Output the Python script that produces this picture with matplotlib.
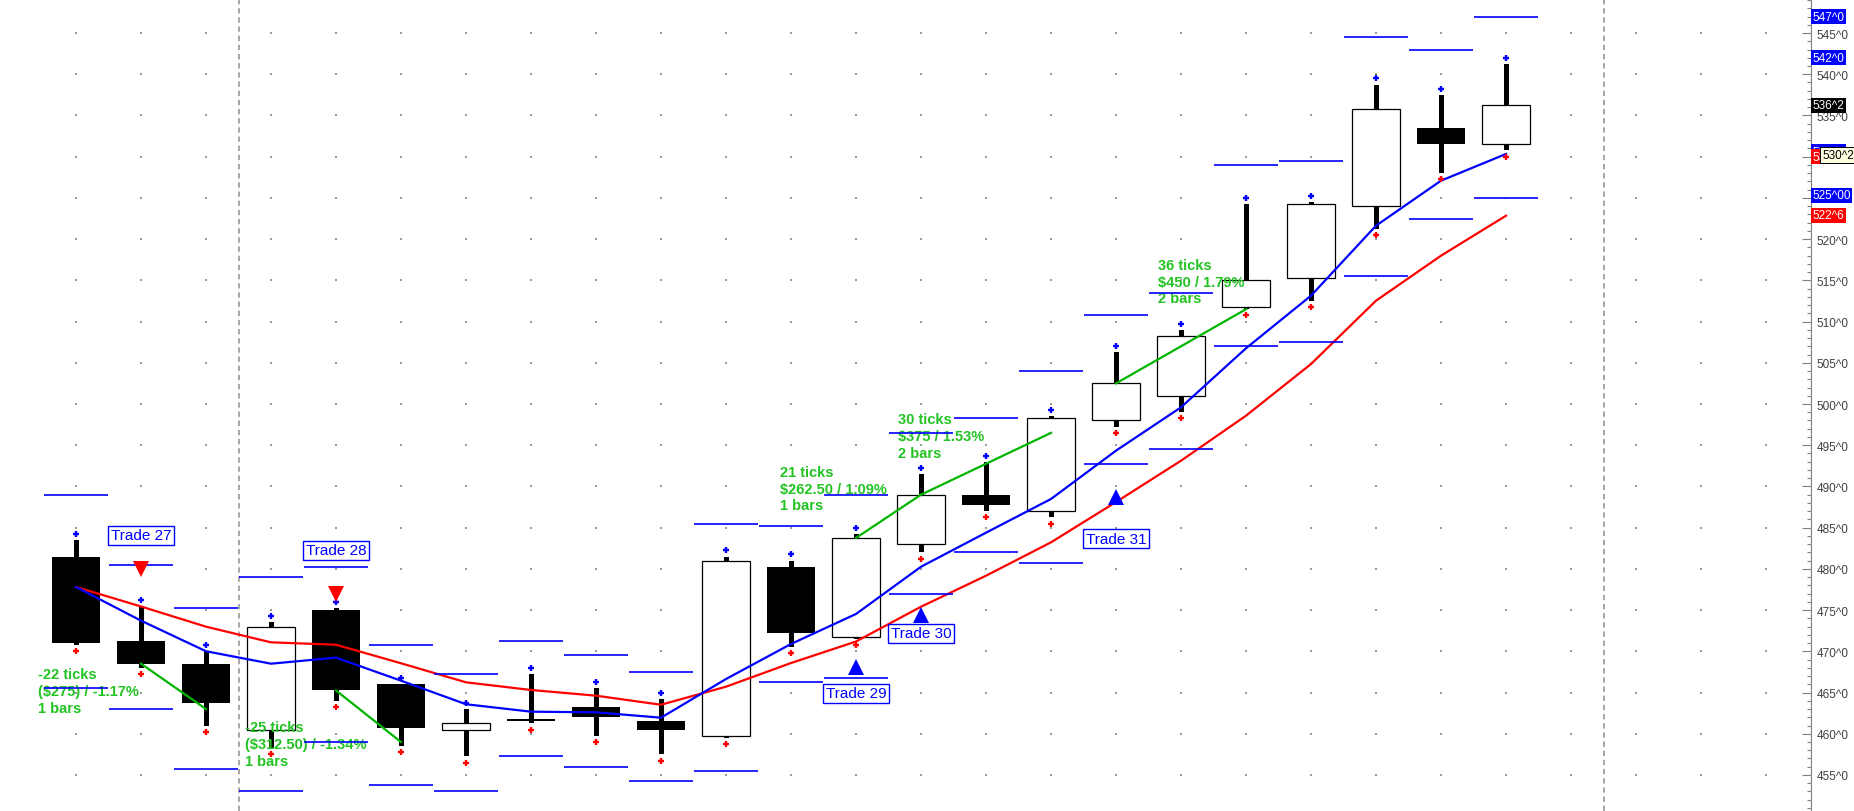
import numpy as np
import matplotlib.pyplot as plt

plt.rcParams['font.family'] = ['Liberation Sans', 'DejaVu Sans']

# corn futures, price in cents (quarter-cent ticks)
opens = [481.50, 471.25, 468.50, 460.50, 475.00, 466.00, 460.50, 461.75, 463.25, 461.50,
         459.75, 480.25, 471.75, 483.00, 489.00, 487.00, 498.00, 501.00, 511.75, 515.25,
         524.00, 533.50, 531.50]
highs = [483.50, 475.50, 470.00, 473.50, 475.25, 466.00, 463.00, 467.25, 465.50, 464.25,
         481.50, 481.00, 484.25, 491.50, 493.00, 498.50, 506.25, 509.00, 524.25, 524.50,
         538.75, 537.50, 541.25]
lows = [470.75, 468.00, 461.00, 458.25, 464.00, 458.50, 457.25, 461.25, 459.75, 457.50,
        459.50, 470.50, 471.50, 482.00, 487.00, 486.25, 497.25, 499.00, 511.50, 512.50,
        521.25, 528.00, 530.75]
closes = [471.00, 468.50, 463.75, 473.00, 465.25, 460.75, 461.25, 461.50, 462.00, 460.50,
          481.00, 472.25, 483.75, 489.00, 487.75, 498.25, 502.50, 508.25, 515.00, 524.25,
          535.75, 531.50, 536.25]

blue_ma = [477.80, 473.72, 470.01, 468.50, 469.23, 466.44, 463.58, 462.68, 462.60, 461.95,
           466.64, 470.89, 474.53, 480.26, 484.39, 488.48, 494.34, 499.60, 506.76, 513.14,
           521.63, 527.09, 530.33]
red_ma = [477.80, 475.44, 472.99, 471.09, 470.80, 468.55, 466.24, 465.31, 464.62, 463.52,
          465.71, 468.58, 471.19, 475.41, 479.17, 483.22, 488.11, 493.12, 498.58, 504.85,
          512.53, 517.99, 522.84]

upper_band = [489.00, 480.50, 475.25, 479.00, 480.25, 470.75, 467.25, 471.25, 469.50, 467.50,
              485.50, 485.25, 489.00, 496.50, 498.25, 504.00, 510.75, 513.50, 529.00, 529.50,
              544.50, 543.00, 547.00]
lower_band = [465.50, 463.00, 455.75, 453.00, 459.00, 453.75, 453.00, 457.25, 456.00, 454.25,
              455.50, 466.25, 466.75, 477.00, 482.00, 480.75, 492.75, 494.50, 507.00, 507.50,
              515.50, 522.50, 525.00]

# trades: entry bar, exit bar, entry price, exit price
trade_names = ['Trade 27', 'Trade 28', 'Trade 29', 'Trade 30', 'Trade 31']
trade_side = ['short', 'short', 'long', 'long', 'long']
entry_bar = [1, 4, 12, 13, 16]
exit_bar = [2, 5, 13, 15, 18]
entry_px = [468.50, 465.25, 483.75, 489.00, 502.50]
exit_px = [463.00, 459.00, 489.00, 496.50, 511.50]
signal_px = [479.94, 476.99, 468.13, 474.35, 488.68]
label_px = [484.05, 482.23, 464.91, 472.19, 483.68]
trade_text = ['-22 ticks\n($275) / -1.17%\n1 bars',
              '-25 ticks\n($312.50) / -1.34%\n1 bars',
              '21 ticks\n$262.50 / 1.09%\n1 bars',
              '30 ticks\n$375 / 1.53%\n2 bars',
              '36 ticks\n$450 / 1.79%\n2 bars']
text_x = [-0.59, 2.60, 10.83, 12.64, 16.64]
text_y = [465.16, 458.76, 489.73, 496.12, 514.84]

# price markers on the right scale
scale_labels = ['547^0', '542^0', '536^2', '530^2', '530^0', '525^00', '522^6']
scale_px = [547.0, 542.0, 536.25, 530.6, 530.0, 525.3, 522.9]
scale_bg = ['#0000ff', '#0000ff', '#000000', '#0000ff', '#ff0000', '#0000ff', '#ff0000']

n = len(opens)
idx = np.arange(n)
o = np.array(opens)
c = np.array(closes)
h = np.array(highs)
l = np.array(lows)

fig = plt.figure(figsize=(18.54, 8.12), dpi=100)
ax = fig.add_axes([0, 0, 1811 / 1854, 1])
ax.set_xlim(-76 / 65, (1811 - 76) / 65)
ax.set_ylim(450.631, 549.127)

# dotted grid
gx, gy = np.meshgrid(np.arange(27), np.arange(455, 550, 5))
ax.scatter(gx.ravel(), gy.ravel(), s=1.4, marker='s', color='#999999', linewidths=0, zorder=0)
for xv in [2.5, 23.5]:
    ax.axvline(xv, color='#909090', lw=1.1, dashes=(3.5, 2.5), zorder=0)

# bands
ax.hlines(upper_band, idx - 0.49, idx + 0.49, color='#0000ff', lw=1.2, zorder=4)
ax.hlines(lower_band, idx - 0.49, idx + 0.49, color='#0000ff', lw=1.2, zorder=4)

# candles
up = c >= o
ax.bar(idx, h - l, bottom=l, width=5 / 65, color='black', zorder=2)
ax.bar(idx[up], (c - o)[up], bottom=o[up], width=48 / 65, facecolor='white',
       edgecolor='black', linewidth=0.9, zorder=2.5)
ax.bar(idx[~up], (o - c)[~up], bottom=c[~up], width=48 / 65, color='black', zorder=2.5)

ax.plot(idx, h + 0.75, linestyle='none', marker='+', ms=3.8, mew=1.7, color='#0000ff', zorder=5)
ax.plot(idx, l - 0.75, linestyle='none', marker='+', ms=3.8, mew=1.7, color='#ff0000', zorder=5)

ax.plot(idx, red_ma, color='#ff0000', lw=1.6, zorder=3)
ax.plot(idx, blue_ma, color='#0000ff', lw=1.6, zorder=3)

# trades
for k in range(len(trade_names)):
    ax.plot([entry_bar[k], exit_bar[k]], [entry_px[k], exit_px[k]], color='#00b400', lw=1.6, zorder=3.5)
    if trade_side[k] == 'short':
        ax.plot(entry_bar[k], signal_px[k], marker='v', ms=12, color='#ff0000', mew=0, zorder=6)
    else:
        ax.plot(entry_bar[k], signal_px[k], marker='^', ms=12, color='#0000ff', mew=0, zorder=6)
    ax.text(entry_bar[k], label_px[k], trade_names[k], ha='center', va='center', fontsize=11,
            color='#0000ff', zorder=7,
            bbox=dict(boxstyle='square,pad=0.18', fc='white', ec='#0000ff', lw=1.0))
    ax.text(text_x[k], text_y[k], trade_text[k], ha='left', va='center', fontsize=10.5,
            fontweight='bold', color='#22c322', linespacing=1.25, zorder=3.8)

# right price scale
for sp in ['left', 'top', 'bottom']:
    ax.spines[sp].set_visible(False)
ax.spines['right'].set_color('#808080')
ax.yaxis.tick_right()
ax.set_xticks([])
ax.set_yticks(np.arange(455, 550, 5))
ax.set_yticks(np.arange(451, 550, 1), minor=True)
ax.set_yticklabels([f'{v}^0' for v in range(455, 550, 5)])
ax.tick_params(axis='y', which='major', direction='in', length=6.5, width=0.8,
               color='#808080', pad=4.3, labelsize=8.5, labelcolor='#404040')
ax.tick_params(axis='y', which='minor', direction='in', length=3, width=0.8, color='#808080')

tr = ax.get_yaxis_transform()
for txt, pv, bg in zip(scale_labels, scale_px, scale_bg):
    ax.text(1.0008, pv, txt, transform=tr, ha='left', va='center', fontsize=8.5, color='white',
            clip_on=False, zorder=10,
            bbox=dict(boxstyle='square,pad=0.12', fc=bg, ec='none'))
ax.text(1.0062, 530.2, '530^2', transform=tr, ha='left', va='center', fontsize=8.5, color='black',
        clip_on=False, zorder=11,
        bbox=dict(boxstyle='square,pad=0.15', fc='#ffffe1', ec='black', lw=0.7))

fig.savefig('out.png', dpi=100)
